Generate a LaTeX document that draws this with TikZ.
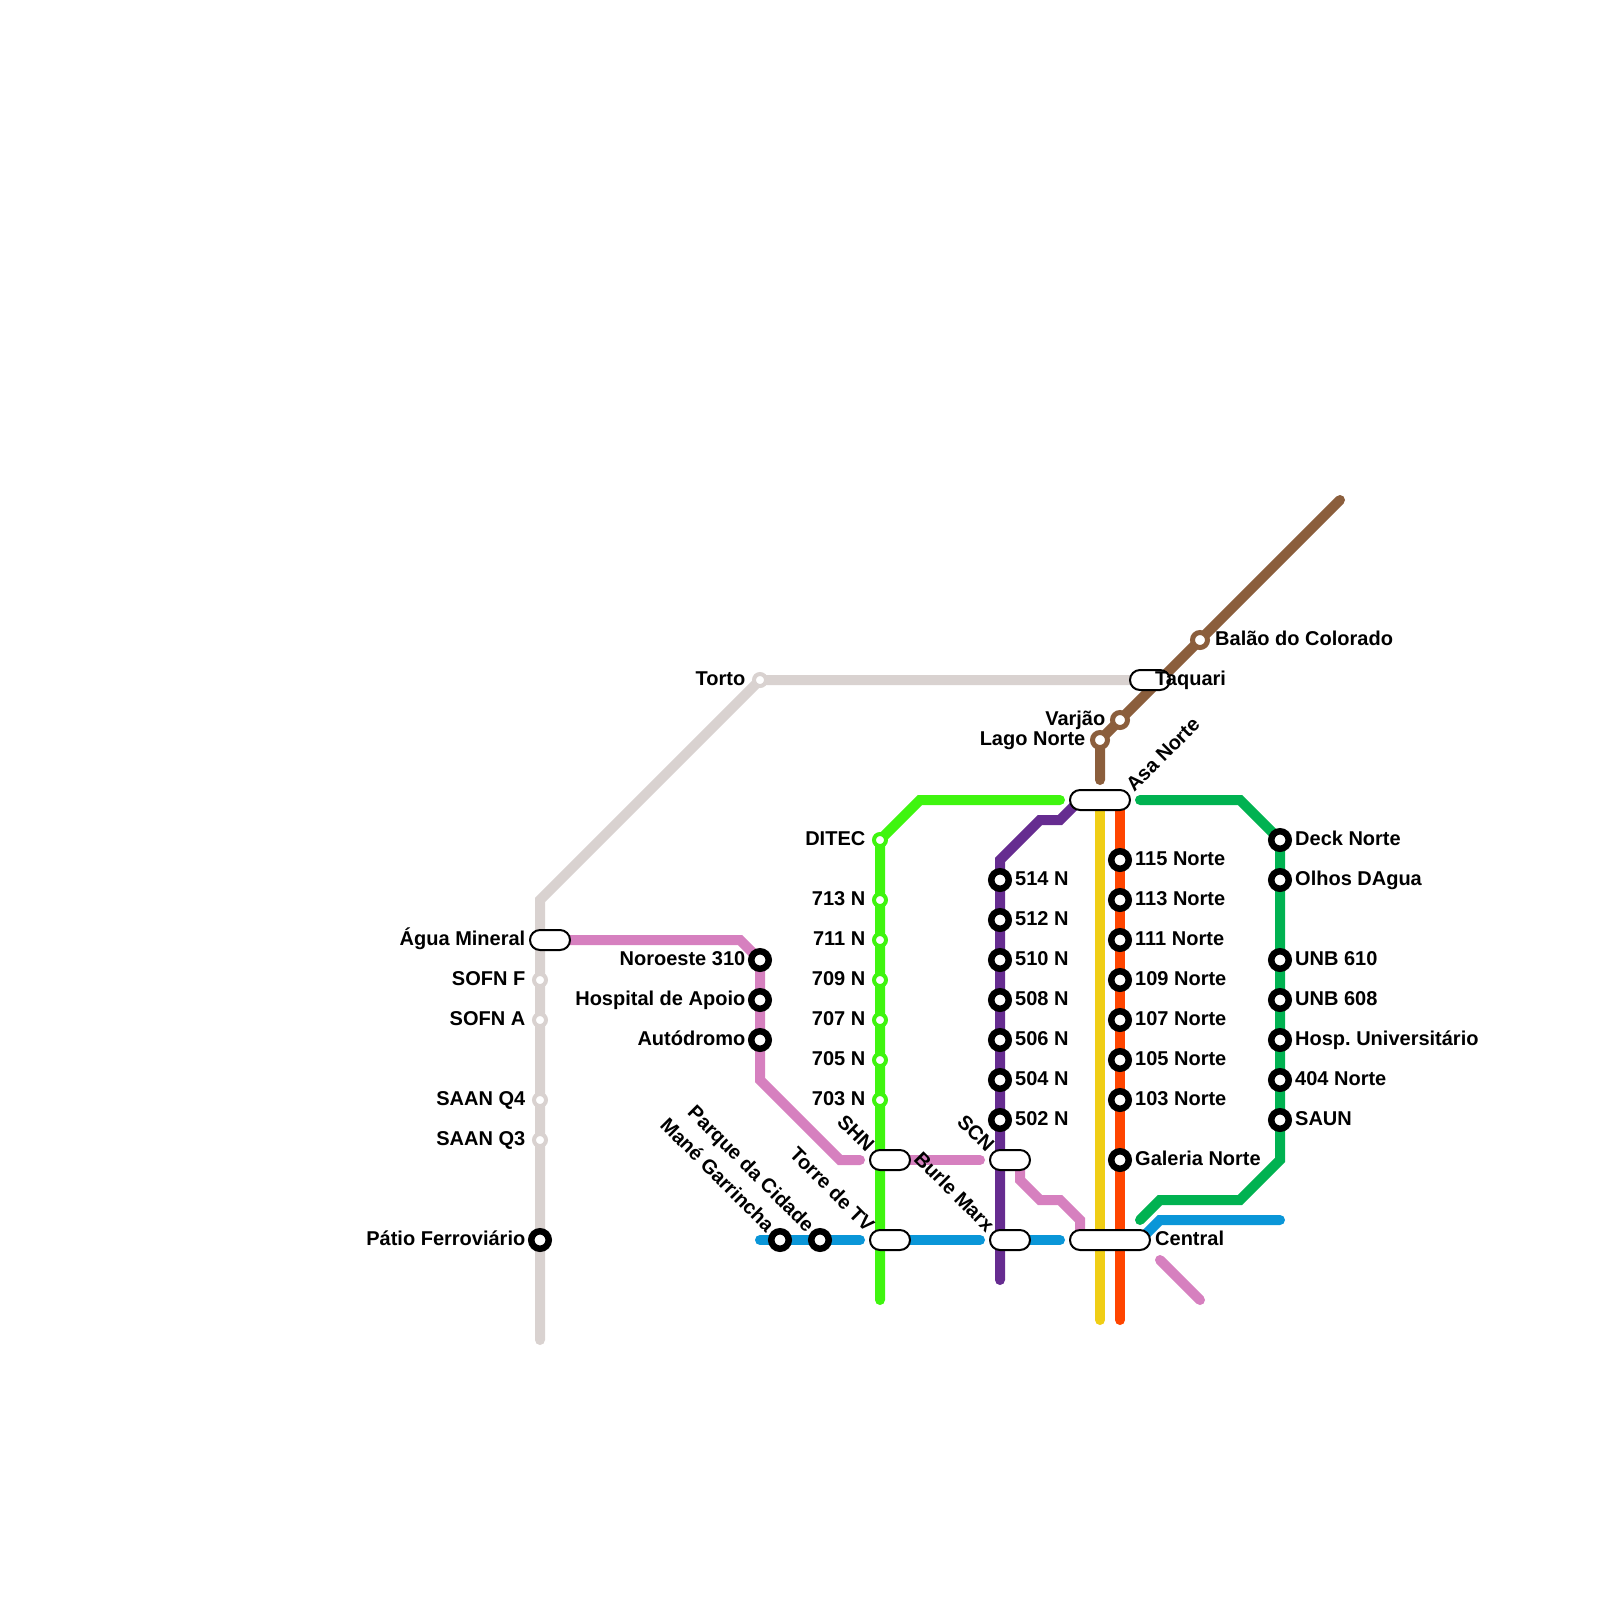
\documentclass[tikz,border=0pt]{standalone}
\usepackage{fontspec}
\setmainfont{Liberation Sans}
\frenchspacing
\usetikzlibrary{backgrounds}
\definecolor{grayline}{HTML}{D9D2D0}
\definecolor{pinkline}{HTML}{D680BF}
\definecolor{blueline}{HTML}{0A96D8}
\definecolor{limeline}{HTML}{3FF50F}
\definecolor{greenline}{HTML}{00B251}
\definecolor{purpleline}{HTML}{662C90}
\definecolor{yellowline}{HTML}{F0CE15}
\definecolor{orangeline}{HTML}{FF4500}
\definecolor{brownline}{HTML}{8B5E3C}
\tikzset{
  metro/.style={line width=.1cm,line cap=round,line join=miter},
  stop/.style={circle,draw=black,fill=white,line width=.065cm,minimum size=.175cm,inner sep=0pt,outer sep=0pt},
  ring/.style={circle,draw=#1,fill=white,line width=.05cm,minimum size=.15cm,inner sep=0pt,outer sep=0pt},
  smallring/.style={circle,draw=#1,fill=white,line width=.04cm,minimum size=.12cm,inner sep=0pt,outer sep=0pt},
  pill/.style={draw=black,fill=white,line width=.02cm,rounded corners=.1cm,minimum width=#1,minimum height=.2cm,inner sep=0pt,outer sep=0pt},
  pill/.default=.4cm,
  lbl/.style={font=\bfseries\fontsize{5.69}{6.8}\selectfont,inner sep=0pt},
  lblr/.style={lbl,anchor=base west,xshift=.145cm,yshift=-.05cm},
  lbll/.style={lbl,anchor=base east,xshift=-.14cm,yshift=-.05cm}
}
\begin{document}
\begin{tikzpicture}[x=.2cm,y=-.2cm]
\useasboundingbox (0,0) rectangle (80,80);

\node[pill] (pAgua) at (27.5,47) {};
\node[pill] (pTaquari) at (57.5,34) {};
\node[pill=.6cm] (pAsa) at (55,40) {};
\node[pill] (pSHN) at (44.5,58) {};
\node[pill] (pSCN) at (50.5,58) {};
\node[pill] (pTorre) at (44.5,62) {};
\node[pill] (pBurle) at (50.5,62) {};
\node[pill=.8cm] (pCentral) at (55.5,62) {};

\node[smallring=grayline] (nTorto) at (38,34) {};
\node[smallring=grayline] (nSOFNF) at (27,49) {};
\node[smallring=grayline] (nSOFNA) at (27,51) {};
\node[smallring=grayline] (nSAAN4) at (27,55) {};
\node[smallring=grayline] (nSAAN3) at (27,57) {};
\node[stop] (nPatio) at (27,62) {};

\node[stop] (nNoroeste) at (38,48) {};
\node[stop] (nHospital) at (38,50) {};
\node[stop] (nAutodromo) at (38,52) {};

\node[stop] (nMane) at (39,62) {};
\node[stop] (nParque) at (41,62) {};

\node[smallring=limeline] (nDitec) at (44,42) {};
\node[smallring=limeline] (n713) at (44,45) {};
\node[smallring=limeline] (n711) at (44,47) {};
\node[smallring=limeline] (n709) at (44,49) {};
\node[smallring=limeline] (n707) at (44,51) {};
\node[smallring=limeline] (n705) at (44,53) {};
\node[smallring=limeline] (n703) at (44,55) {};

\node[stop] (n514) at (50,44) {};
\node[stop] (n512) at (50,46) {};
\node[stop] (n510) at (50,48) {};
\node[stop] (n508) at (50,50) {};
\node[stop] (n506) at (50,52) {};
\node[stop] (n504) at (50,54) {};
\node[stop] (n502) at (50,56) {};

\node[stop] (n115) at (56,43) {};
\node[stop] (n113) at (56,45) {};
\node[stop] (n111) at (56,47) {};
\node[stop] (n109) at (56,49) {};
\node[stop] (n107) at (56,51) {};
\node[stop] (n105) at (56,53) {};
\node[stop] (n103) at (56,55) {};
\node[stop] (nGaleria) at (56,58) {};

\node[stop] (nDeck) at (64,42) {};
\node[stop] (nOlhos) at (64,44) {};
\node[stop] (nUNB610) at (64,48) {};
\node[stop] (nUNB608) at (64,50) {};
\node[stop] (nHosp) at (64,52) {};
\node[stop] (n404) at (64,54) {};
\node[stop] (nSAUN) at (64,56) {};

\node[ring=brownline] (nLago) at (55,37) {};
\node[ring=brownline] (nVarjao) at (56,36) {};
\node[ring=brownline] (nBalao) at (60,32) {};

\coordinate (gEnd) at (27,67);
\coordinate (gTop) at (27,45);
\coordinate (kEnd1) at (43,58);
\coordinate (kEnd2) at (49,58);
\coordinate (kStart3) at (51,58);
\coordinate (kEnd3) at (54,62);
\coordinate (kStart4) at (58,63);
\coordinate (kEnd4) at (60,65);
\coordinate (bStart1) at (38,62);
\coordinate (bEnd1) at (43,62);
\coordinate (bEnd2) at (49,62);
\coordinate (bEnd3) at (53,62);
\coordinate (bStart4) at (57,62);
\coordinate (bEnd4) at (64,61);
\coordinate (lEnd1) at (44,65);
\coordinate (lEnd2) at (53,40);
\coordinate (pEnd1) at (50,64);
\coordinate (pEnd2) at (54,40);
\coordinate (yEnd) at (55,66);
\coordinate (oStart) at (56,40);
\coordinate (oEnd) at (56,66);
\coordinate (gnStart) at (57,61);
\coordinate (gnEnd) at (57,40);
\coordinate (brEnd1) at (55,39);
\coordinate (brEnd2) at (67,25);

\begin{pgfonlayer}{background}
\draw[metro,grayline] (gEnd)--(nPatio.center)--(nSAAN3.center)--(nSAAN4.center)--(nSOFNA.center)--(nSOFNF.center)--(gTop)--(nTorto.center)--(pTaquari.center);
\draw[metro,pinkline] (pAgua.center)--(37,47)--(nNoroeste.center)--(nHospital.center)--(nAutodromo.center)--(38,54)--(42,58)--(kEnd1);
\draw[metro,pinkline] (pSHN.center)--(kEnd2);
\draw[metro,pinkline] (kStart3)--(51,59)--(52,60)--(53,60)--(54,61)--(kEnd3);
\draw[metro,pinkline] (kStart4)--(kEnd4);
\draw[metro,blueline] (bStart1)--(nMane.center)--(nParque.center)--(bEnd1);
\draw[metro,blueline] (pTorre.center)--(bEnd2);
\draw[metro,blueline] (pBurle.center)--(bEnd3);
\draw[metro,blueline] (bStart4)--(58,61)--(bEnd4);
\draw[metro,limeline] (lEnd1)--(n703.center)--(n705.center)--(n707.center)--(n709.center)--(n711.center)--(n713.center)--(nDitec.center)--(46,40)--(lEnd2);
\draw[metro,purpleline] (pEnd1)--(n502.center)--(n504.center)--(n506.center)--(n508.center)--(n510.center)--(n512.center)--(n514.center)--(50,43)--(52,41)--(53,41)--(pEnd2);
\draw[metro,yellowline] (pAsa.center)--(yEnd);
\draw[metro,orangeline] (oStart)--(n115.center)--(n113.center)--(n111.center)--(n109.center)--(n107.center)--(n105.center)--(n103.center)--(nGaleria.center)--(oEnd);
\draw[metro,greenline] (gnStart)--(58,60)--(62,60)--(64,58)--(nSAUN.center)--(n404.center)--(nHosp.center)--(nUNB608.center)--(nUNB610.center)--(nOlhos.center)--(nDeck.center)--(62,40)--(gnEnd);
\draw[metro,brownline] (brEnd1)--(nLago.center)--(nVarjao.center)--(nBalao.center)--(brEnd2);
\end{pgfonlayer}

\node[lbll] (tAgua) at (27,47) {Água Mineral};
\node[lbll] (tSOFNF) at (nSOFNF) {SOFN F};
\node[lbll] (tSOFNA) at (nSOFNA) {SOFN A};
\node[lbll] (tSAAN4) at (nSAAN4) {SAAN Q4};
\node[lbll] (tSAAN3) at (nSAAN3) {SAAN Q3};
\node[lbll] (tPatio) at (nPatio) {Pátio Ferroviário};
\node[lbll] (tTorto) at (nTorto) {Torto};
\node[lbll] (tNoroeste) at (nNoroeste) {Noroeste 310};
\node[lbll] (tHospital) at (nHospital) {Hospital de Apoio};
\node[lbll] (tAutodromo) at (nAutodromo) {Autódromo};
\node[lbll] (tDitec) at (nDitec) {DITEC};
\node[lbll] (t713) at (n713) {713 N};
\node[lbll] (t711) at (n711) {711 N};
\node[lbll] (t709) at (n709) {709 N};
\node[lbll] (t707) at (n707) {707 N};
\node[lbll] (t705) at (n705) {705 N};
\node[lbll] (t703) at (n703) {703 N};
\node[lbll] (tVarjao) at (nVarjao) {Varjão};
\node[lbll] (tLago) at (nLago) {Lago Norte};

\node[lblr] (t514) at (n514) {514 N};
\node[lblr] (t512) at (n512) {512 N};
\node[lblr] (t510) at (n510) {510 N};
\node[lblr] (t508) at (n508) {508 N};
\node[lblr] (t506) at (n506) {506 N};
\node[lblr] (t504) at (n504) {504 N};
\node[lblr] (t502) at (n502) {502 N};
\node[lblr] (t115) at (n115) {115 Norte};
\node[lblr] (t113) at (n113) {113 Norte};
\node[lblr] (t111) at (n111) {111 Norte};
\node[lblr] (t109) at (n109) {109 Norte};
\node[lblr] (t107) at (n107) {107 Norte};
\node[lblr] (t105) at (n105) {105 Norte};
\node[lblr] (t103) at (n103) {103 Norte};
\node[lblr] (tGaleria) at (nGaleria) {Galeria Norte};
\node[lblr] (tDeck) at (nDeck) {Deck Norte};
\node[lblr] (tOlhos) at (nOlhos) {Olhos DAgua};
\node[lblr] (tUNB610) at (nUNB610) {UNB 610};
\node[lblr] (tUNB608) at (nUNB608) {UNB 608};
\node[lblr] (tHosp) at (nHosp) {Hosp. Universitário};
\node[lblr] (t404) at (n404) {404 Norte};
\node[lblr] (tSAUN) at (nSAUN) {SAUN};
\node[lblr] (tBalao) at (nBalao) {Balão do Colorado};
\node[lblr] (tTaquari) at (57,34) {Taquari};
\node[lblr] (tCentral) at (57,62) {Central};

\node[rotate=45,lblr] (tAsa) at (56,40) {Asa Norte};
\node[rotate=-45,lbll] (tSHN) at (44,58) {SHN};
\node[rotate=-45,lbll] (tSCN) at (50,58) {SCN};
\node[rotate=-45,lbll] (tTorre) at (44,62) {Torre de TV};
\node[rotate=-45,lbll] (tBurle) at (50,62) {Burle Marx};
\node[rotate=-45,lbll] (tParque) at (nParque) {Parque da Cidade};
\node[rotate=-45,lbll] (tMane) at (nMane) {Mané Garrincha};
\end{tikzpicture}
\end{document}
